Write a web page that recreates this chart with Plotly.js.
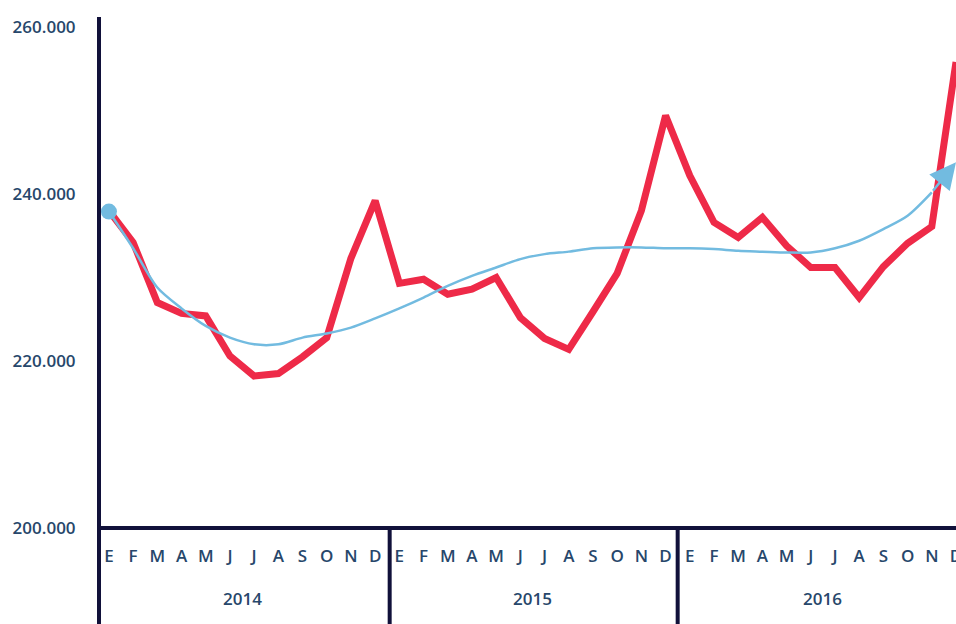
<!DOCTYPE html>
<html>
<head>
<meta charset="utf-8">
<script src="https://cdn.plot.ly/plotly-3.0.1.min.js"></script>
<style>
html,body{margin:0;padding:0;background:#fff;}
#chart{width:956px;height:624px;}
</style>
</head>
<body>
<div id="chart"></div>
<script>
const months = ['E','F','M','A','M','J','J','A','S','O','N','D'];
const years = ['2014','2015','2016'];
const salesValues = [
  238000, 234200, 227000, 225700, 225400, 220600, 218200, 218500, 220500, 222800, 232300, 239200,
  229300, 229800, 228000, 228600, 230000, 225200, 222700, 221400, 225900, 230500, 238000, 249400,
  242200, 236600, 234800, 237200, 233800, 231200, 231200, 227600, 231300, 234100, 236100, 255800
];
const trendValues = [
  237900, 233500, 228800, 226300, 224200, 222800, 222000, 222000, 222800, 223300, 224000, 225100,
  226300, 227600, 229000, 230200, 231200, 232200, 232800, 233100, 233500, 233600, 233600, 233500,
  233500, 233400, 233200, 233100, 233000, 233000, 233500, 234400, 235800, 237400, 240200, 243800
];
const yTickValues = [200000, 220000, 240000, 260000];
const yTickLabels = ['200.000', '220.000', '240.000', '260.000'];

const nMonths = months.length * years.length;
const xIdx = Array.from({length: nMonths}, (_, i) => i);
const xTickText = years.flatMap(() => months);

const axisColor = '#11113a';
const textColor = '#27476b';
const blue = '#72bbe0';
const fontFamily = '"Open Sans", "Noto Sans", sans-serif';

const last = nMonths - 1;
const traces = [
  {
    x: xIdx, y: salesValues, type: 'scatter', mode: 'lines',
    line: {color: '#ee2a48', width: 7, shape: 'linear'},
    hoverinfo: 'skip'
  },
  {
    x: xIdx.slice(0, last), y: trendValues.slice(0, last), type: 'scatter', mode: 'lines',
    line: {color: blue, width: 2.5, shape: 'spline', smoothing: 0.8},
    cliponaxis: false,
    hoverinfo: 'skip'
  },
  {
    x: [xIdx[0]], y: [trendValues[0]], type: 'scatter', mode: 'markers',
    marker: {size: 16, symbol: 'circle', color: blue, line: {width: 0}},
    cliponaxis: false, hoverinfo: 'skip'
  }
];

const sepPositions = [11.6, 23.5];
const shapes = [
  {type: 'line', xref: 'paper', yref: 'paper', x0: 0, x1: 0, y0: -0.19, y1: 1, line: {color: axisColor, width: 4}},
  {type: 'line', xref: 'paper', yref: 'paper', x0: 0, x1: 1, y0: 0, y1: 0, line: {color: axisColor, width: 4}}
].concat(sepPositions.map(p => ({
  type: 'line', xref: 'x', yref: 'paper', x0: p, x1: p, y0: -0.19, y1: 0, line: {color: axisColor, width: 4}
})));

const annotations = years.map((yr, k) => ({
  x: k * months.length + (months.length - 1) / 2, xref: 'x',
  y: -0.137, yref: 'paper', yanchor: 'middle',
  text: yr, showarrow: false,
  font: {family: fontFamily, size: 17, color: textColor, weight: 600}
}));
annotations.push({
  x: xIdx[last], y: trendValues[last], xref: 'x', yref: 'y',
  ax: xIdx[last - 1], ay: trendValues[last - 1], axref: 'x', ayref: 'y',
  text: '', showarrow: true, arrowhead: 2, arrowsize: 2.1, arrowwidth: 2.5,
  arrowcolor: blue, standoff: 0, startstandoff: 0
});

const layout = {
  width: 956, height: 624,
  margin: {l: 99, r: 0, t: 17, b: 96},
  paper_bgcolor: '#ffffff', plot_bgcolor: '#ffffff',
  showlegend: false,
  xaxis: {
    range: [-0.41, 35.0],
    tickmode: 'array', tickvals: xIdx, ticktext: xTickText,
    ticks: 'outside', ticklen: 13, tickcolor: 'rgba(0,0,0,0)',
    ticklabeloverflow: 'allow',
    showgrid: false, zeroline: false, showline: false,
    tickfont: {family: fontFamily, size: 17, color: textColor, weight: 600},
    fixedrange: true
  },
  yaxis: {
    range: [200000, 261200],
    tickmode: 'array', tickvals: yTickValues, ticktext: yTickLabels,
    ticks: 'outside', ticklen: 19, tickcolor: 'rgba(0,0,0,0)',
    showgrid: false, zeroline: false, showline: false,
    tickfont: {family: fontFamily, size: 17, color: textColor, weight: 600},
    fixedrange: true
  },
  shapes: shapes,
  annotations: annotations
};

Plotly.newPlot('chart', traces, layout, {displayModeBar: false, staticPlot: true});
</script>
</body>
</html>
